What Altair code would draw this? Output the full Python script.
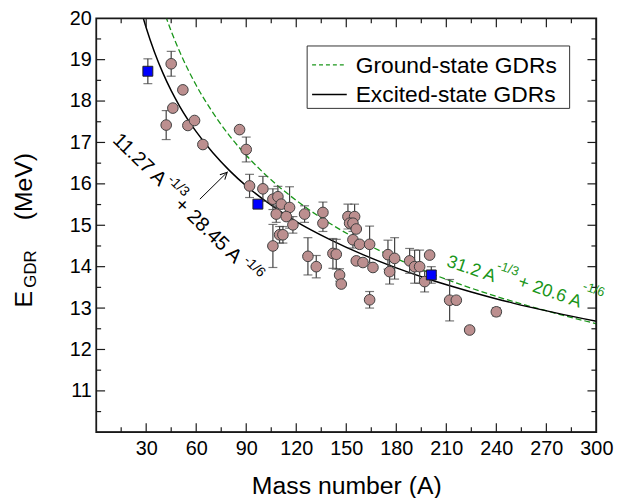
import altair as alt
import pandas as pd

# ---------------- data ----------------
circ_A = [42, 45, 46, 52, 55, 59, 64, 86, 90, 92, 100, 106, 109, 111, 116, 108, 114, 118, 110, 112,
          106, 125, 136, 136, 127, 132, 142, 144, 146, 147, 151, 155, 152, 154, 156, 154, 158, 164,
          156, 160, 166, 164, 175, 179, 176, 188, 191, 194, 197, 200, 212, 216, 224, 240]
circ_E = [17.42, 18.9, 17.83, 18.27, 17.41, 17.53, 16.95, 17.31, 16.83, 15.95, 15.88, 15.63, 15.69,
          15.51, 15.43, 15.27, 15.21, 15.01, 14.77, 14.77, 14.5, 15.27, 15.31, 15.05, 14.25, 14.0,
          14.32, 14.3, 13.8, 13.58, 15.21, 15.21, 15.05, 15.05, 14.91, 14.65, 14.54, 14.54, 14.14,
          14.1, 13.98, 13.2, 14.29, 14.2, 13.88, 14.14, 14.0, 14.0, 13.64, 14.28, 13.19, 13.19,
          12.47, 12.91]
circ_err = [0.35, 0.3, 0, 0, 0, 0, 0, 0, 0.3, 0.28, 0.3, 0.25, 0.25, 0, 0.5, 0.2, 0, 0.2, 0.2, 0.2,
            0.52, 0.2, 0.25, 0.2, 0.45, 0.27, 0.36, 0.36, 0.15, 0, 0.3, 0.3, 0, 0, 0, 0.2, 0, 0.44,
            0, 0, 0, 0.2, 0.35, 0.5, 0.3, 0.3, 0.4, 0.4, 0.25, 0, 0.5, 0, 0.08, 0.1]

sq_A = [31, 97, 201]
sq_E = [18.72, 15.51, 13.8]
sq_err = [0.3, 0, 0.2]

# curves
exc_A = [26, 28, 30, 35, 40, 45, 50, 60, 70, 80, 90, 100, 120, 140, 160, 180, 200, 225, 250, 275, 300]
exc_E = [20.33, 20.04, 19.77, 19.18, 18.68, 18.25, 17.88, 17.26, 16.75, 16.32, 15.95, 15.63, 15.09,
         14.66, 14.29, 13.97, 13.69, 13.39, 13.12, 12.89, 12.68]
gs_A = [40, 42, 45, 50, 60, 70, 80, 90, 100, 120, 140, 160, 180, 200, 225, 250, 275, 300]
gs_E = [20.26, 20.02, 19.69, 19.20, 18.38, 17.72, 17.16, 16.69, 16.28, 15.60, 15.05, 14.59, 14.20,
        13.85, 13.48, 13.16, 12.88, 12.62]

x_major = [30, 60, 90, 120, 150, 180, 210, 240, 270, 300]
x_minor = [15, 45, 75, 105, 135, 165, 195, 225, 255, 285]
y_major = [11, 12, 13, 14, 15, 16, 17, 18, 19, 20]
y_minor = [10.5, 11.5, 12.5, 13.5, 14.5, 15.5, 16.5, 17.5, 18.5, 19.5]

legend_labels = ["Ground-state GDRs", "Excited-state GDRs"]

# ---------------- layout ----------------
W, H = 505, 418
X0, X1, Y0, Y1 = 0, 300, 10, 20
FONT = "Liberation Sans"
GREEN = "#1a961a"
EDGE = "#404040"
FRAME = "#1a1a1a"

xs = alt.Scale(domain=[X0, X1], nice=False, zero=False)
ys = alt.Scale(domain=[Y0, Y1], nice=False, zero=False)
X = alt.X("A:Q", scale=xs,
          axis=alt.Axis(values=x_major, title="Mass number (A)", grid=False, ticks=False,
                        domain=False, labelFontSize=20, labelPadding=6, titleFontSize=25,
                        titlePadding=16, titleFontWeight="normal", labelFont=FONT, titleFont=FONT,
                        labelColor="black", titleColor="black", labelFlush=False))
Y = alt.Y("E:Q", scale=ys,
          axis=alt.Axis(values=y_major, title=None, grid=False, ticks=False,
                        domain=False, labelFontSize=20, labelPadding=5, labelFont=FONT,
                        labelColor="black", labelFlush=False))

circ = pd.DataFrame({"A": circ_A, "E": circ_E, "err": circ_err})
circ["lo"] = circ["E"] - circ["err"]
circ["hi"] = circ["E"] + circ["err"]
sq = pd.DataFrame({"A": sq_A, "E": sq_E, "err": sq_err})
sq["lo"] = sq["E"] - sq["err"]
sq["hi"] = sq["E"] + sq["err"]
bars = pd.concat([circ, sq])
bars = bars[bars["err"] > 0]

gs_df = pd.DataFrame({"A": gs_A, "E": gs_E})
exc_df = pd.DataFrame({"A": exc_A, "E": exc_E})

gs_line = alt.Chart(gs_df).mark_line(
    color=GREEN, strokeDash=[6, 3], strokeWidth=1.3, clip=True, interpolate="monotone"
).encode(x=X, y=Y)
exc_line = alt.Chart(exc_df).mark_line(
    color="black", strokeWidth=1.5, clip=True, interpolate="monotone"
).encode(x=X, y=Y)

err_rule = alt.Chart(bars).mark_rule(color=EDGE, strokeWidth=1.2).encode(
    x=X, y=alt.Y("lo:Q"), y2="hi:Q")
cap_lo = alt.Chart(bars).mark_tick(color=EDGE, orient="horizontal", size=9, thickness=1.2).encode(
    x=X, y=alt.Y("lo:Q"))
cap_hi = alt.Chart(bars).mark_tick(color=EDGE, orient="horizontal", size=9, thickness=1.2).encode(
    x=X, y=alt.Y("hi:Q"))

circles = alt.Chart(circ).mark_point(shape="circle", filled=True, size=115, fill="#bc8f8f",
                                     stroke=EDGE, strokeWidth=1, opacity=1).encode(x=X, y=Y)
squares = alt.Chart(sq).mark_point(shape="square", filled=True, size=100, fill="#0000ff",
                                   stroke="#202020", strokeWidth=1, opacity=1).encode(x=X, y=Y)

# inward ticks as short filled bars positioned by the scales
px_x = (X1 - X0) / W
px_y = (Y1 - Y0) / H
seg = []
for v in x_major[:-1]:
    seg += [(v - 0.6 * px_x, Y0, v + 0.6 * px_x, Y0 + 9 * px_y),
            (v - 0.6 * px_x, Y1, v + 0.6 * px_x, Y1 - 9 * px_y)]
for v in x_minor:
    seg += [(v - 0.6 * px_x, Y0, v + 0.6 * px_x, Y0 + 5 * px_y),
            (v - 0.6 * px_x, Y1, v + 0.6 * px_x, Y1 - 5 * px_y)]
for v in y_major[:-1]:
    seg += [(X0, v - 0.6 * px_y, X0 + 9 * px_x, v + 0.6 * px_y),
            (X1, v - 0.6 * px_y, X1 - 9 * px_x, v + 0.6 * px_y)]
for v in y_minor:
    seg += [(X0, v - 0.6 * px_y, X0 + 5 * px_x, v + 0.6 * px_y),
            (X1, v - 0.6 * px_y, X1 - 5 * px_x, v + 0.6 * px_y)]
# thin inner frame bars (the view stroke draws the main frame)
seg += [(X0, Y0, X1, Y0 + 1 * px_y), (X0, Y1, X1, Y1 - 1 * px_y),
        (X0, Y0, X0 + 1 * px_x, Y1), (X1, Y0, X1 - 1 * px_x, Y1)]
bars_df = pd.DataFrame(seg, columns=["A", "E", "A2", "E2"])
frame = alt.Chart(bars_df).mark_rect(color=FRAME, opacity=1, strokeWidth=0).encode(
    x=X, y=Y, x2="A2:Q", y2="E2:Q")

# formula annotations
blk_main = pd.DataFrame({"A": [26.0, 67.1], "E": [16.58, 14.87], "t": ["11.27 A", "+ 28.45 A"]})
blk_sup = pd.DataFrame({"A": [49.3, 94.9], "E": [15.95, 14.0], "t": ["-1/3", "-1/6"]})
grn_main = pd.DataFrame({"A": [225.0, 272.0], "E": [13.93, 13.38], "t": ["31.2 A", "+ 20.6 A"]})
grn_sup = pd.DataFrame({"A": [247.0, 298.5], "E": [13.95, 13.45], "t": ["-1/3", "-1/6"]})

t1 = alt.Chart(blk_main).mark_text(angle=44, fontSize=20, font=FONT, color="black",
                                   align="center", baseline="middle").encode(x=X, y=Y, text="t:N")
t2 = alt.Chart(blk_sup).mark_text(angle=44, fontSize=14, font=FONT, color="black",
                                  align="center", baseline="middle").encode(x=X, y=Y, text="t:N")
t3 = alt.Chart(grn_main).mark_text(angle=19, fontSize=18, font=FONT, color=GREEN,
                                   align="center", baseline="middle").encode(x=X, y=Y, text="t:N")
t4 = alt.Chart(grn_sup).mark_text(angle=19, fontSize=13, font=FONT, color=GREEN,
                                  align="center", baseline="middle").encode(x=X, y=Y, text="t:N")

arrow = pd.DataFrame({"A": [62.2], "E": [15.63], "A2": [78.6], "E2": [16.28]})
shaft = alt.Chart(arrow).mark_rule(color="black", strokeWidth=1).encode(
    x=X, y=Y, x2="A2:Q", y2="E2:Q")
head = alt.Chart(arrow).mark_point(shape="M -0.5 1 L 0 0 L 0.5 1", filled=False, angle=45,
                                   size=196, stroke="black", strokeWidth=1, opacity=1).encode(
    x=alt.X("A2:Q", scale=xs), y=alt.Y("E2:Q", scale=ys))

# legend
one = pd.DataFrame({"k": [0]})
leg_box = alt.Chart(one).mark_rect(fill="white", stroke="#333", strokeWidth=1).encode(
    x=alt.value(213), x2=alt.value(478), y=alt.value(28), y2=alt.value(91))
leg_gs = alt.Chart(one).mark_rule(color=GREEN, strokeDash=[4, 3], strokeWidth=1.3).encode(
    x=alt.value(218), x2=alt.value(253), y=alt.value(47))
leg_exc = alt.Chart(one).mark_rule(color="black", strokeWidth=1.5).encode(
    x=alt.value(218), x2=alt.value(253), y=alt.value(77))
leg_t1 = alt.Chart(one).mark_text(text=legend_labels[0], fontSize=23, font=FONT, align="left",
                                  baseline="middle", color="black").encode(
    x=alt.value(262), y=alt.value(48))
leg_t2 = alt.Chart(one).mark_text(text=legend_labels[1], fontSize=23, font=FONT, align="left",
                                  baseline="middle", color="black").encode(
    x=alt.value(262), y=alt.value(78))

# y-axis title with subscript
yt_E = alt.Chart(one).mark_text(text="E", fontSize=25, font=FONT, angle=270, align="left",
                                baseline="alphabetic", color="black").encode(
    x=alt.value(-65), y=alt.value(292))
yt_sub = alt.Chart(one).mark_text(text="GDR", fontSize=17, font=FONT, angle=270, align="left",
                                  baseline="alphabetic", color="black").encode(
    x=alt.value(-61), y=alt.value(272))
yt_unit = alt.Chart(one).mark_text(text="(MeV)", fontSize=25, font=FONT, angle=270, align="right",
                                   baseline="alphabetic", color="black").encode(
    x=alt.value(-65), y=alt.value(136))

chart = alt.layer(
    gs_line, exc_line, err_rule, cap_lo, cap_hi, circles, squares, frame,
    t1, t2, t3, t4, shaft, head,
    leg_box, leg_gs, leg_exc, leg_t1, leg_t2, yt_E, yt_sub, yt_unit
).properties(
    width=W, height=H,
    autosize=alt.AutoSizeParams(type="none"),
    padding={"left": 89, "top": 8, "right": 40, "bottom": 64},
    background="white",
).configure_view(stroke=FRAME, strokeWidth=1.6)

chart.save("out.html", embed_options={"renderer": "svg", "actions": False})
